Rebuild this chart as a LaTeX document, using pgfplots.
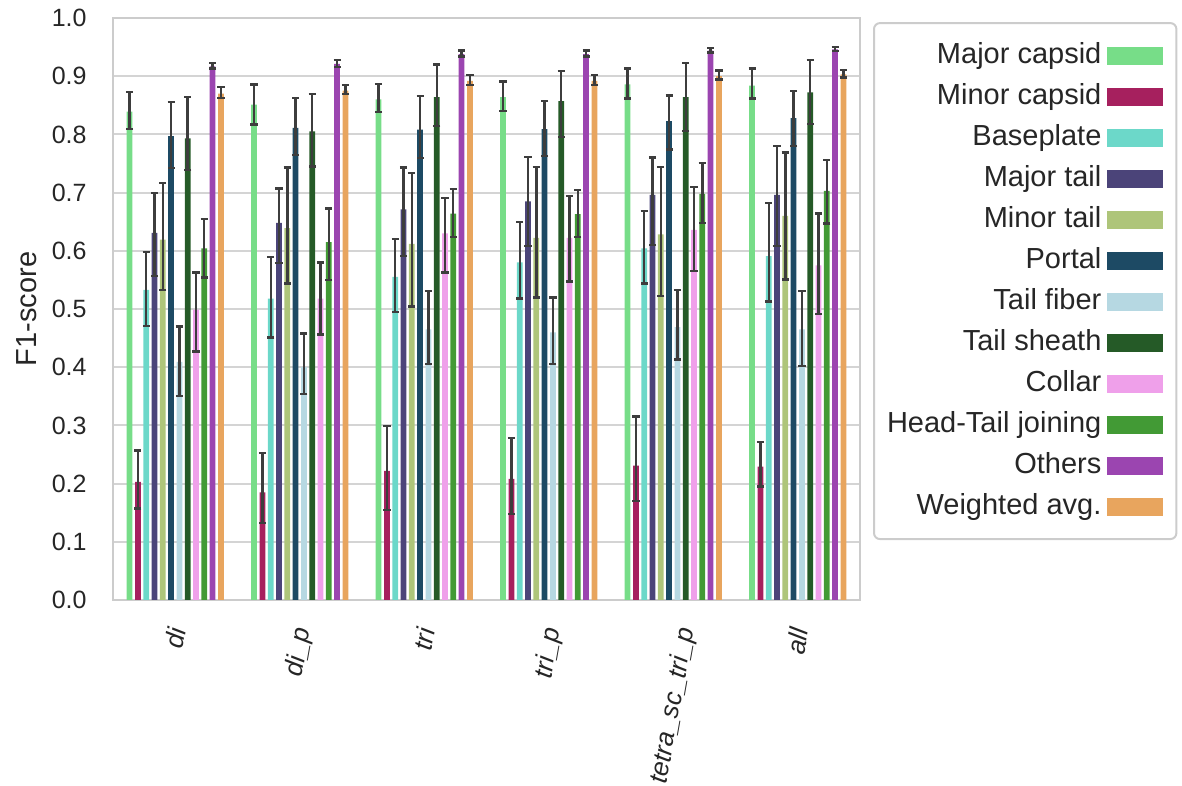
\documentclass[border=0pt]{standalone}
\usepackage{fontspec}
\setmainfont{Liberation Sans}
\usepackage{pgfplots}
\pgfplotsset{compat=1.18}

\definecolor{txt}{HTML}{262626}
\definecolor{errc}{HTML}{3D3D3D}
\definecolor{gridc}{HTML}{D4D4D4}
\definecolor{framec}{HTML}{CCCCCC}
\definecolor{cA}{HTML}{77DD88}
\definecolor{cB}{HTML}{A6205E}
\definecolor{cC}{HTML}{6CD8C9}
\definecolor{cD}{HTML}{4B4479}
\definecolor{cE}{HTML}{AEC57A}
\definecolor{cF}{HTML}{1D4A64}
\definecolor{cG}{HTML}{B6D8E2}
\definecolor{cH}{HTML}{255A27}
\definecolor{cI}{HTML}{EFA0EA}
\definecolor{cJ}{HTML}{429A35}
\definecolor{cK}{HTML}{9B45B0}
\definecolor{cL}{HTML}{E8A55E}

\pgfplotsset{
  errbars/.style={
    error bars/y dir=both, error bars/y explicit,
    error bars/error bar style={draw=errc, line width=1.2pt},
    error bars/error mark options={rotate=90, mark size=1.8pt, draw=errc, line width=1.2pt}},
}

\begin{document}
\begin{tikzpicture}
\begin{axis}[
    scale only axis, width=373.5pt, height=291pt,
    ybar, bar width=0.046,
    xmin=-0.5, xmax=5.5, ymin=0, ymax=1,
    xtick={0,1,2,3,4,5},
    xticklabels={di, di\_p, tri, tri\_p, tetra\_sc\_tri\_p, all},
    ytick={0,0.1,0.2,0.3,0.4,0.5,0.6,0.7,0.8,0.9,1.0},
    /pgf/number format/fixed, /pgf/number format/fixed zerofill,
    /pgf/number format/precision=1, /pgf/number format/assume math mode=true,
    major tick length=0pt,
    tick label style={text=txt, font=\fontsize{12.5}{15}\selectfont},
    yticklabel style={inner sep=0pt, xshift=-13pt},
    xticklabel style={font=\fontsize{13}{15}\selectfont\itshape, inner sep=0pt,
        yshift=-14pt, xshift={{0.9,2,0.9,2.3,7,1}[\ticknum]*1pt},
        rotate=80, anchor=east},
    ymajorgrids, grid style={gridc, line width=1pt},
    axis line style={framec, line width=1.4pt},
    every axis y label/.style={at={([xshift=-38pt]rel axis cs:0,0.5)}, rotate=90, anchor=base,
        font=\fontsize{14.5}{17}\selectfont, text=txt},
    ylabel={F1-score},
    every axis plot/.append style={draw=none, errbars},
    legend plot pos=right,
    legend cell align=right,
    legend image code/.code={\fill[#1, sharp corners] (0pt,-4.5pt) rectangle (28pt,4.5pt);},
    legend style={at={(1.0174,0.993)}, anchor=north west, draw=framec, line width=1pt,
        rounded corners=3pt, fill=white, inner xsep=6.5pt, inner ysep=9pt,
        column sep=3pt, row sep=6pt, text=txt, font=\fontsize{14.5}{17}\selectfont,
        nodes={inner sep=0pt, text height=11pt, text depth=3.5pt}},
]
\coordinate (sw) at (rel axis cs:0,0);
\coordinate (ne) at (rel axis cs:1,1);

% Major capsid
\addplot[fill=cA, bar shift=-0.3667] coordinates {
 (0,0.839) += (0,0.034) -= (0,0.030)
 (1,0.851) += (0,0.035) -= (0,0.034)
 (2,0.860) += (0,0.027) -= (0,0.022)
 (3,0.864) += (0,0.027) -= (0,0.024)
 (4,0.886) += (0,0.027) -= (0,0.024)
 (5,0.884) += (0,0.029) -= (0,0.022)};
% Minor capsid
\addplot[fill=cB, bar shift=-0.3] coordinates {
 (0,0.203) += (0,0.054) -= (0,0.046)
 (1,0.185) += (0,0.068) -= (0,0.053)
 (2,0.222) += (0,0.077) -= (0,0.067)
 (3,0.208) += (0,0.070) -= (0,0.060)
 (4,0.231) += (0,0.084) -= (0,0.061)
 (5,0.229) += (0,0.042) -= (0,0.034)};
% Baseplate
\addplot[fill=cC, bar shift=-0.2333] coordinates {
 (0,0.533) += (0,0.065) -= (0,0.062)
 (1,0.518) += (0,0.071) -= (0,0.067)
 (2,0.555) += (0,0.065) -= (0,0.060)
 (3,0.580) += (0,0.069) -= (0,0.062)
 (4,0.604) += (0,0.064) -= (0,0.060)
 (5,0.591) += (0,0.091) -= (0,0.078)};
% Major tail
\addplot[fill=cD, bar shift=-0.1667] coordinates {
 (0,0.631) += (0,0.068) -= (0,0.074)
 (1,0.648) += (0,0.059) -= (0,0.069)
 (2,0.671) += (0,0.072) -= (0,0.080)
 (3,0.685) += (0,0.076) -= (0,0.077)
 (4,0.696) += (0,0.064) -= (0,0.086)
 (5,0.696) += (0,0.084) -= (0,0.088)};
% Minor tail
\addplot[fill=cE, bar shift=-0.1] coordinates {
 (0,0.619) += (0,0.097) -= (0,0.086)
 (1,0.639) += (0,0.104) -= (0,0.095)
 (2,0.612) += (0,0.122) -= (0,0.108)
 (3,0.622) += (0,0.122) -= (0,0.102)
 (4,0.628) += (0,0.116) -= (0,0.106)
 (5,0.660) += (0,0.109) -= (0,0.109)};
% Portal
\addplot[fill=cF, bar shift=-0.0333] coordinates {
 (0,0.797) += (0,0.059) -= (0,0.055)
 (1,0.811) += (0,0.052) -= (0,0.046)
 (2,0.808) += (0,0.058) -= (0,0.049)
 (3,0.809) += (0,0.048) -= (0,0.046)
 (4,0.823) += (0,0.044) -= (0,0.049)
 (5,0.828) += (0,0.047) -= (0,0.048)};
% Tail fiber
\addplot[fill=cG, bar shift=0.0333] coordinates {
 (0,0.409) += (0,0.061) -= (0,0.058)
 (1,0.400) += (0,0.058) -= (0,0.046)
 (2,0.465) += (0,0.066) -= (0,0.060)
 (3,0.460) += (0,0.060) -= (0,0.055)
 (4,0.469) += (0,0.064) -= (0,0.056)
 (5,0.465) += (0,0.066) -= (0,0.063)};
% Tail sheath
\addplot[fill=cH, bar shift=0.1] coordinates {
 (0,0.793) += (0,0.071) -= (0,0.054)
 (1,0.805) += (0,0.064) -= (0,0.060)
 (2,0.864) += (0,0.056) -= (0,0.050)
 (3,0.857) += (0,0.052) -= (0,0.061)
 (4,0.864) += (0,0.059) -= (0,0.058)
 (5,0.872) += (0,0.056) -= (0,0.054)};
% Collar
\addplot[fill=cI, bar shift=0.1667] coordinates {
 (0,0.499) += (0,0.064) -= (0,0.072)
 (1,0.518) += (0,0.062) -= (0,0.062)
 (2,0.630) += (0,0.061) -= (0,0.067)
 (3,0.622) += (0,0.072) -= (0,0.075)
 (4,0.636) += (0,0.074) -= (0,0.071)
 (5,0.575) += (0,0.089) -= (0,0.084)};
% Head-Tail joining
\addplot[fill=cJ, bar shift=0.2333] coordinates {
 (0,0.604) += (0,0.051) -= (0,0.050)
 (1,0.615) += (0,0.058) -= (0,0.065)
 (2,0.664) += (0,0.042) -= (0,0.040)
 (3,0.663) += (0,0.041) -= (0,0.039)
 (4,0.698) += (0,0.053) -= (0,0.050)
 (5,0.703) += (0,0.053) -= (0,0.056)};
% Others
\addplot[fill=cK, bar shift=0.3] coordinates {
 (0,0.917) += (0,0.006) -= (0,0.004)
 (1,0.921) += (0,0.007) -= (0,0.005)
 (2,0.938) += (0,0.006) -= (0,0.004)
 (3,0.938) += (0,0.006) -= (0,0.004)
 (4,0.944) += (0,0.004) -= (0,0.003)
 (5,0.946) += (0,0.004) -= (0,0.003)};
% Weighted avg.
\addplot[fill=cL, bar shift=0.3667] coordinates {
 (0,0.870) += (0,0.011) -= (0,0.007)
 (1,0.875) += (0,0.010) -= (0,0.006)
 (2,0.892) += (0,0.010) -= (0,0.007)
 (3,0.892) += (0,0.010) -= (0,0.007)
 (4,0.900) += (0,0.010) -= (0,0.006)
 (5,0.903) += (0,0.008) -= (0,0.005)};

\legend{Major capsid, Minor capsid, Baseplate, Major tail, Minor tail, Portal,
  Tail fiber, Tail sheath, Collar, Head-Tail joining, Others, Weighted avg.}
\end{axis}
\pgfresetboundingbox
\path[use as bounding box] ([shift={(-56.5pt,-93pt)}]sw) rectangle ([shift={(161pt,9pt)}]ne);
\end{tikzpicture}
\end{document}
